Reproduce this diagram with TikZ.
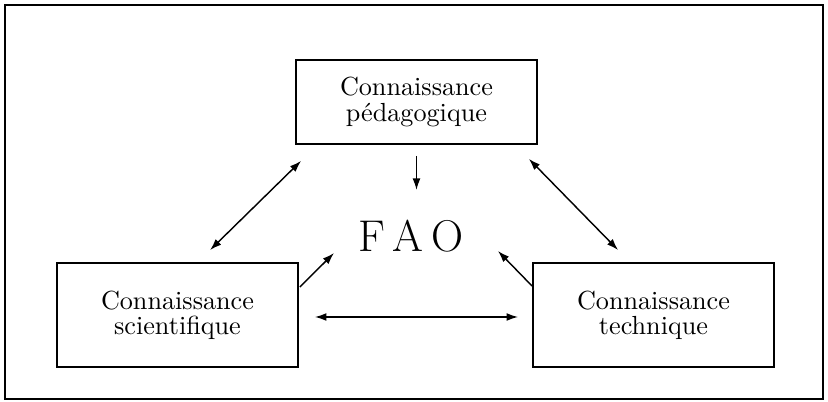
\documentclass[tikz,border=0pt]{standalone}
\usepackage{amsmath,amssymb}
\usepackage{tikz}
\usetikzlibrary{arrows.meta}

\begin{document}
\begin{tikzpicture}[x=0.382pt, y=-0.382pt,
    connbox/.style={draw, line width=0.75pt, minimum width=92pt, align=center,
      inner sep=0pt, font=\fontsize{10}{9.6}\selectfont},
    link/.style={line width=0.55pt, -{Latex[length=4.4pt,width=3pt]}},
    dlink/.style={line width=0.55pt, {Latex[length=4.4pt,width=3pt]}-{Latex[length=4.4pt,width=3pt]}}]
    \useasboundingbox (0,0) rectangle (828,402);

    \draw[line width=0.7pt] (5,5) rectangle (823,399);

    \node[connbox, minimum height=32pt] (peda) at (416.5,102) {Connaissance\\p\'edagogique};
    \node[connbox, minimum height=39.7pt] (scien) at (177.5,315) {Connaissance\\scientifique};
    \node[connbox, minimum height=39.7pt] (techn) at (653.5,315) {Connaissance\\technique};

    \node[font=\fontsize{17}{20}\selectfont, inner sep=0pt] (fao) at (411,236) {F\,A\,O};

    \draw[link] ([shift={(0,11)}]peda.south) -- ([shift={(5.5,-46)}]fao.center);
    \draw[dlink] ([shift={(6,16)}]peda.south west) -- ([shift={(154,-12)}]scien.north west);
    \draw[dlink] ([shift={(-9,14)}]peda.south east) -- ([shift={(86,-12)}]techn.north west);
    \draw[link] ([shift={(1,25)}]scien.north east) -- ([shift={(-77,17)}]fao.center);
    \draw[link] ([shift={(0,24)}]techn.north west) -- ([shift={(87,15)}]fao.center);
    \draw[dlink] ([shift={(16,2)}]scien.east) -- ([shift={(-14,2)}]techn.west);
  \end{tikzpicture}
\end{document}
